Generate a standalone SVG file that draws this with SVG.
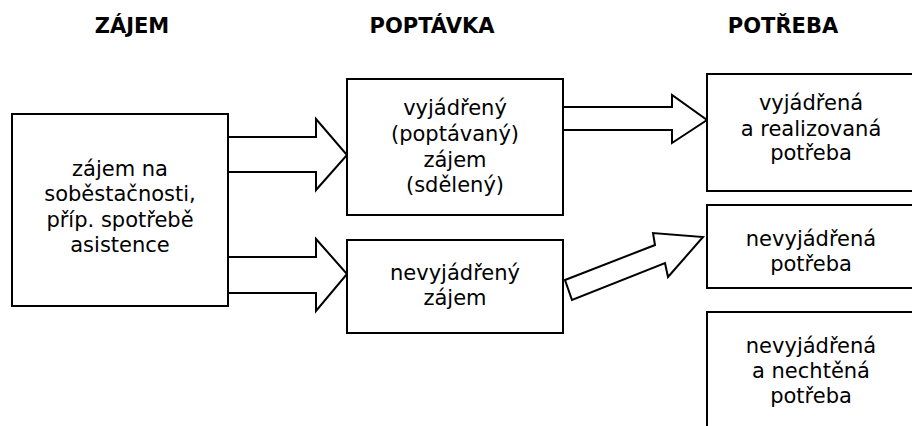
<svg xmlns="http://www.w3.org/2000/svg" width="912" height="426" viewBox="0 0 912 426">
<style>
.box{fill:#fff;stroke:#000;stroke-width:2}
.arr{fill:#fff;stroke:#000;stroke-width:2;stroke-linejoin:miter}
.t{font-family:"DejaVu Sans",Verdana,sans-serif;font-size:21px;text-anchor:middle;fill:#000}
.h{font-family:"DejaVu Sans",Verdana,sans-serif;font-size:21px;font-weight:bold;text-anchor:middle;fill:#000}
</style>
<rect width="912" height="426" fill="#fff"/>
<g id="headers">
<text class="h" x="132" y="33">ZÁJEM</text>
<text class="h" x="432" y="33">POPTÁVKA</text>
<text class="h" x="783" y="33">POTŘEBA</text>
</g>
<g id="connectors">
<polygon class="arr" points="228,137 316,137 316,119 347,155 316,190 316,172 228,172"/>
<polygon class="arr" points="228,257 316,257 316,239 347,274 316,311 316,293 228,293"/>
<polygon class="arr" points="563,107 672,107 672,95 707,120 672,143 672,130 563,130"/>
<polygon class="arr" points="565,280 655,245 653,233 703,237 668,277 665,263 572,300"/>
</g>
<g id="zajem">
<rect class="box" x="12" y="114" width="216" height="192"/>
<text class="t" x="120" y="176">zájem na</text>
<text class="t" x="120" y="201">soběstačnosti,</text>
<text class="t" x="120" y="227">příp. spotřebě</text>
<text class="t" x="120" y="252">asistence</text>
</g>
<g id="vyjadreny">
<rect class="box" x="347" y="79" width="216" height="136"/>
<text class="t" x="455" y="115">vyjádřený</text>
<text class="t" x="455" y="141">(poptávaný)</text>
<text class="t" x="455" y="167">zájem</text>
<text class="t" x="455" y="192">(sdělený)</text>
</g>
<g id="nevyjadreny">
<rect class="box" x="347" y="240" width="216" height="93"/>
<text class="t" x="455" y="280">nevyjádřený</text>
<text class="t" x="455" y="305">zájem</text>
</g>
<g id="realizovana">
<rect class="box" x="707" y="74" width="220" height="117"/>
<text class="t" x="811" y="110">vyjádřená</text>
<text class="t" x="811" y="136">a realizovaná</text>
<text class="t" x="811" y="160">potřeba</text>
</g>
<g id="nevyjadrena">
<rect class="box" x="707" y="205" width="220" height="83"/>
<text class="t" x="811" y="246">nevyjádřená</text>
<text class="t" x="811" y="271">potřeba</text>
</g>
<g id="nechtena">
<rect class="box" x="707" y="312" width="220" height="130"/>
<text class="t" x="811" y="353">nevyjádřená</text>
<text class="t" x="811" y="378">a nechtěná</text>
<text class="t" x="811" y="403">potřeba</text>
</g>
</svg>
